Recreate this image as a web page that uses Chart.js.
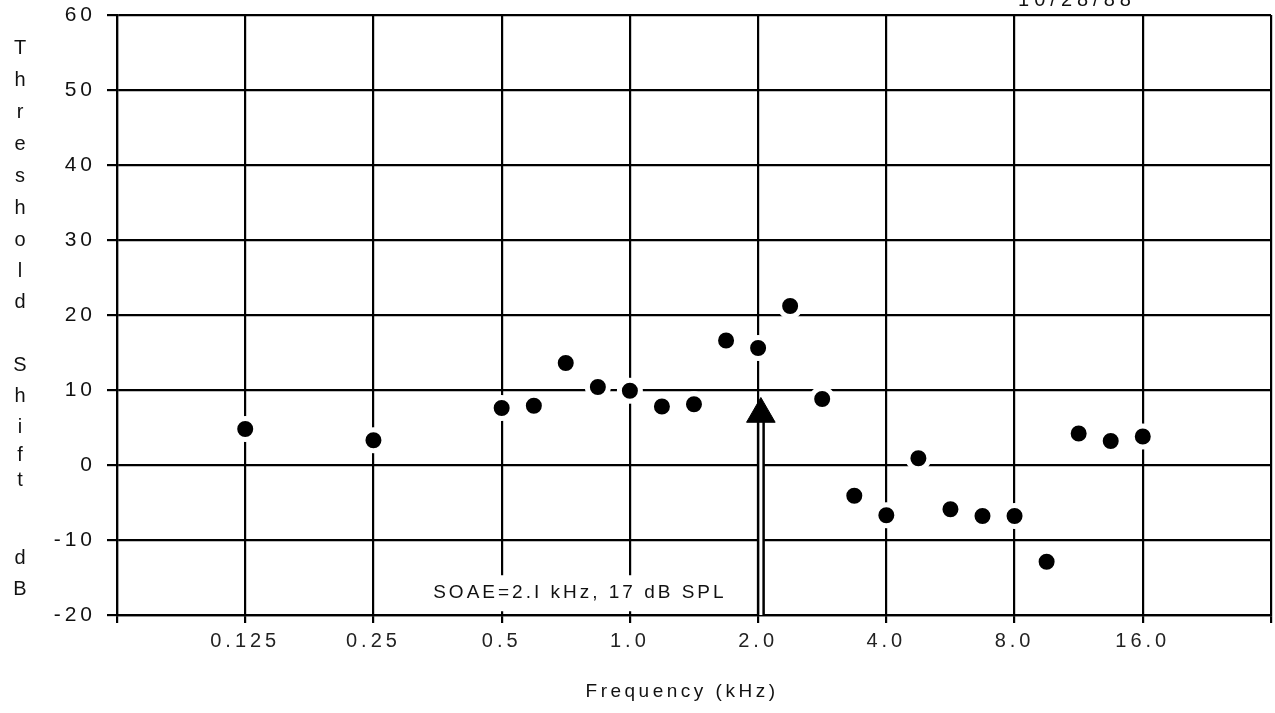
<!DOCTYPE html>
<html>
<head>
<meta charset="utf-8">
<script src="https://cdn.jsdelivr.net/npm/chart.js@4.4.1/dist/chart.umd.min.js"></script>
<style>
  body { margin: 0; background: #fff; }
  #wrap { width: 1275px; height: 713px; position: relative; }
</style>
</head>
<body>
<div id="wrap"><canvas id="myChart"></canvas></div>
<script>
// test frequencies (kHz), quarter-octave steps from 0.5 up
const freqs = [0.125, 0.25, 0.5, 0.595, 0.707, 0.841, 1.0, 1.189, 1.414, 1.682, 2.0, 2.378,
               2.828, 3.364, 4.0, 4.757, 5.657, 6.727, 8.0, 9.514, 11.314, 13.454, 16.0];
// threshold shift (dB)
const shifts = [4.8, 3.3, 7.6, 7.9, 13.6, 10.4, 9.9, 7.8, 8.1, 16.6, 15.6, 21.2,
                8.8, -4.1, -6.7, 0.9, -5.9, -6.8, -6.8, -12.9, 4.2, 3.2, 3.8];

// SOAE arrow
const soaeFreq = 2.03;
const arrowHead = 6.8;
const arrowShaft = [-20, 6];
const soaeNote = 'SOAE=2.I kHz, 17 dB SPL';
const noteFreq = 0.755;
const noteLevel = -17.1;

const xTickValues = [0.0625, 0.125, 0.25, 0.5, 1, 2, 4, 8, 16, 32];
const xTickLabels = ['', '0.125', '0.25', '0.5', '1.0', '2.0', '4.0', '8.0', '16.0', ''];
const yMin = -20, yMax = 60, yStep = 10;

const yTitle = ['T','h','r','e','s','h','o','l','d','S','h','i','f','t','d','B'];
const xTitle = 'Frequency (kHz)';
const dateText = '10/28/88';

const FONT = '"Liberation Sans", Arial, Helvetica, sans-serif';

const textPlugin = {
    id: 'texts',
    beforeDraw(chart) {
        chart.ctx.letterSpacing = '4px';
    },
    afterDraw(chart) {
        const ctx = chart.ctx;
        const xs = chart.scales.x, ys = chart.scales.y;
        ctx.save();
        ctx.fillStyle = '#111';
        // stacked y title letters
        const rows = [48, 80, 112, 144, 176, 208, 240, 271, 302, 365, 396, 427, 455, 480, 558, 589];
        ctx.letterSpacing = '0px';
        ctx.font = '20px ' + FONT;
        ctx.textAlign = 'center';
        ctx.textBaseline = 'middle';
        for (let i = 0; i < yTitle.length; i++) {
            ctx.fillText(yTitle[i], 20, rows[i]);
        }
        // x title
        ctx.font = '19px ' + FONT;
        ctx.letterSpacing = '3.5px';
        ctx.fillText(xTitle, 682, 692);
        // date, cut at the top edge
        ctx.font = '20px ' + FONT;
        ctx.letterSpacing = '5px';
        ctx.textBaseline = 'alphabetic';
        ctx.fillText(dateText, 1077, 6);
        // SOAE note with white box
        ctx.font = '19px ' + FONT;
        ctx.letterSpacing = '3px';
        const nx = xs.getPixelForValue(noteFreq);
        const ny = ys.getPixelForValue(noteLevel);
        const w = ctx.measureText(soaeNote).width;
        ctx.fillStyle = '#fff';
        ctx.fillRect(nx - w / 2 - 6, ny - 18, w + 12, 36);
        ctx.fillStyle = '#111';
        ctx.textBaseline = 'middle';
        ctx.fillText(soaeNote, nx + 2, ny);
        ctx.restore();
        ctx.letterSpacing = '0px';
    }
};

const ctx = document.getElementById('myChart');
const soaeChart = new Chart(ctx, {
    type: 'scatter',
    data: {
        datasets: [
            {
                data: freqs.map((f, i) => ({x: f, y: shifts[i]})),
                pointRadius: 10.5,
                pointBackgroundColor: '#000',
                pointBorderColor: '#fff',
                pointBorderWidth: 5
            },
            {
                data: [{x: soaeFreq, y: arrowHead}],
                pointStyle: 'triangle',
                pointRadius: 16.5,
                pointBackgroundColor: '#000',
                pointBorderColor: '#000',
                pointBorderWidth: 1
            },
            {
                data: arrowShaft.map(v => ({x: soaeFreq, y: v})),
                showLine: true,
                borderColor: '#fff',
                borderWidth: 3,
                pointRadius: 0
            },
            {
                data: arrowShaft.map(v => ({x: soaeFreq, y: v})),
                showLine: true,
                borderColor: '#000',
                borderWidth: 8,
                pointRadius: 0
            }
        ]
    },
    options: {
        responsive: true,
        maintainAspectRatio: false,
        devicePixelRatio: 1,
        animation: false,
        layout: { autoPadding: false, padding: { top: 15, right: 4, left: 0, bottom: 0 } },
        plugins: { legend: { display: false }, tooltip: { enabled: false } },
        scales: {
            x: {
                type: 'logarithmic',
                min: 0.0625,
                max: 32,
                afterBuildTicks: scale => { scale.ticks = xTickValues.map(v => ({value: v})); },
                afterFit: scale => {
                    scale.height = 98;
                    scale.paddingLeft = 0;
                    scale.paddingRight = 0;
                },
                grid: { color: '#000', lineWidth: 2.2, tickLength: 8 },
                border: { color: '#000', width: 2.2 },
                ticks: {
                    autoSkip: false,
                    maxRotation: 0,
                    padding: 6,
                    color: '#222',
                    font: { family: FONT, size: 20 },
                    callback: v => { const i = xTickValues.indexOf(v); return i < 0 ? '' : xTickLabels[i]; }
                }
            },
            y: {
                min: yMin,
                max: yMax,
                afterFit: scale => {
                    scale.width = 117;
                    scale.paddingTop = 0;
                    scale.paddingBottom = 0;
                },
                grid: { color: '#000', lineWidth: 2.2, tickLength: 10 },
                border: { color: '#000', width: 2.2 },
                ticks: {
                    stepSize: yStep,
                    padding: 11,
                    color: '#111',
                    font: { family: FONT, size: 21 }
                }
            }
        }
    },
    plugins: [textPlugin]
});
</script>
</body>
</html>
